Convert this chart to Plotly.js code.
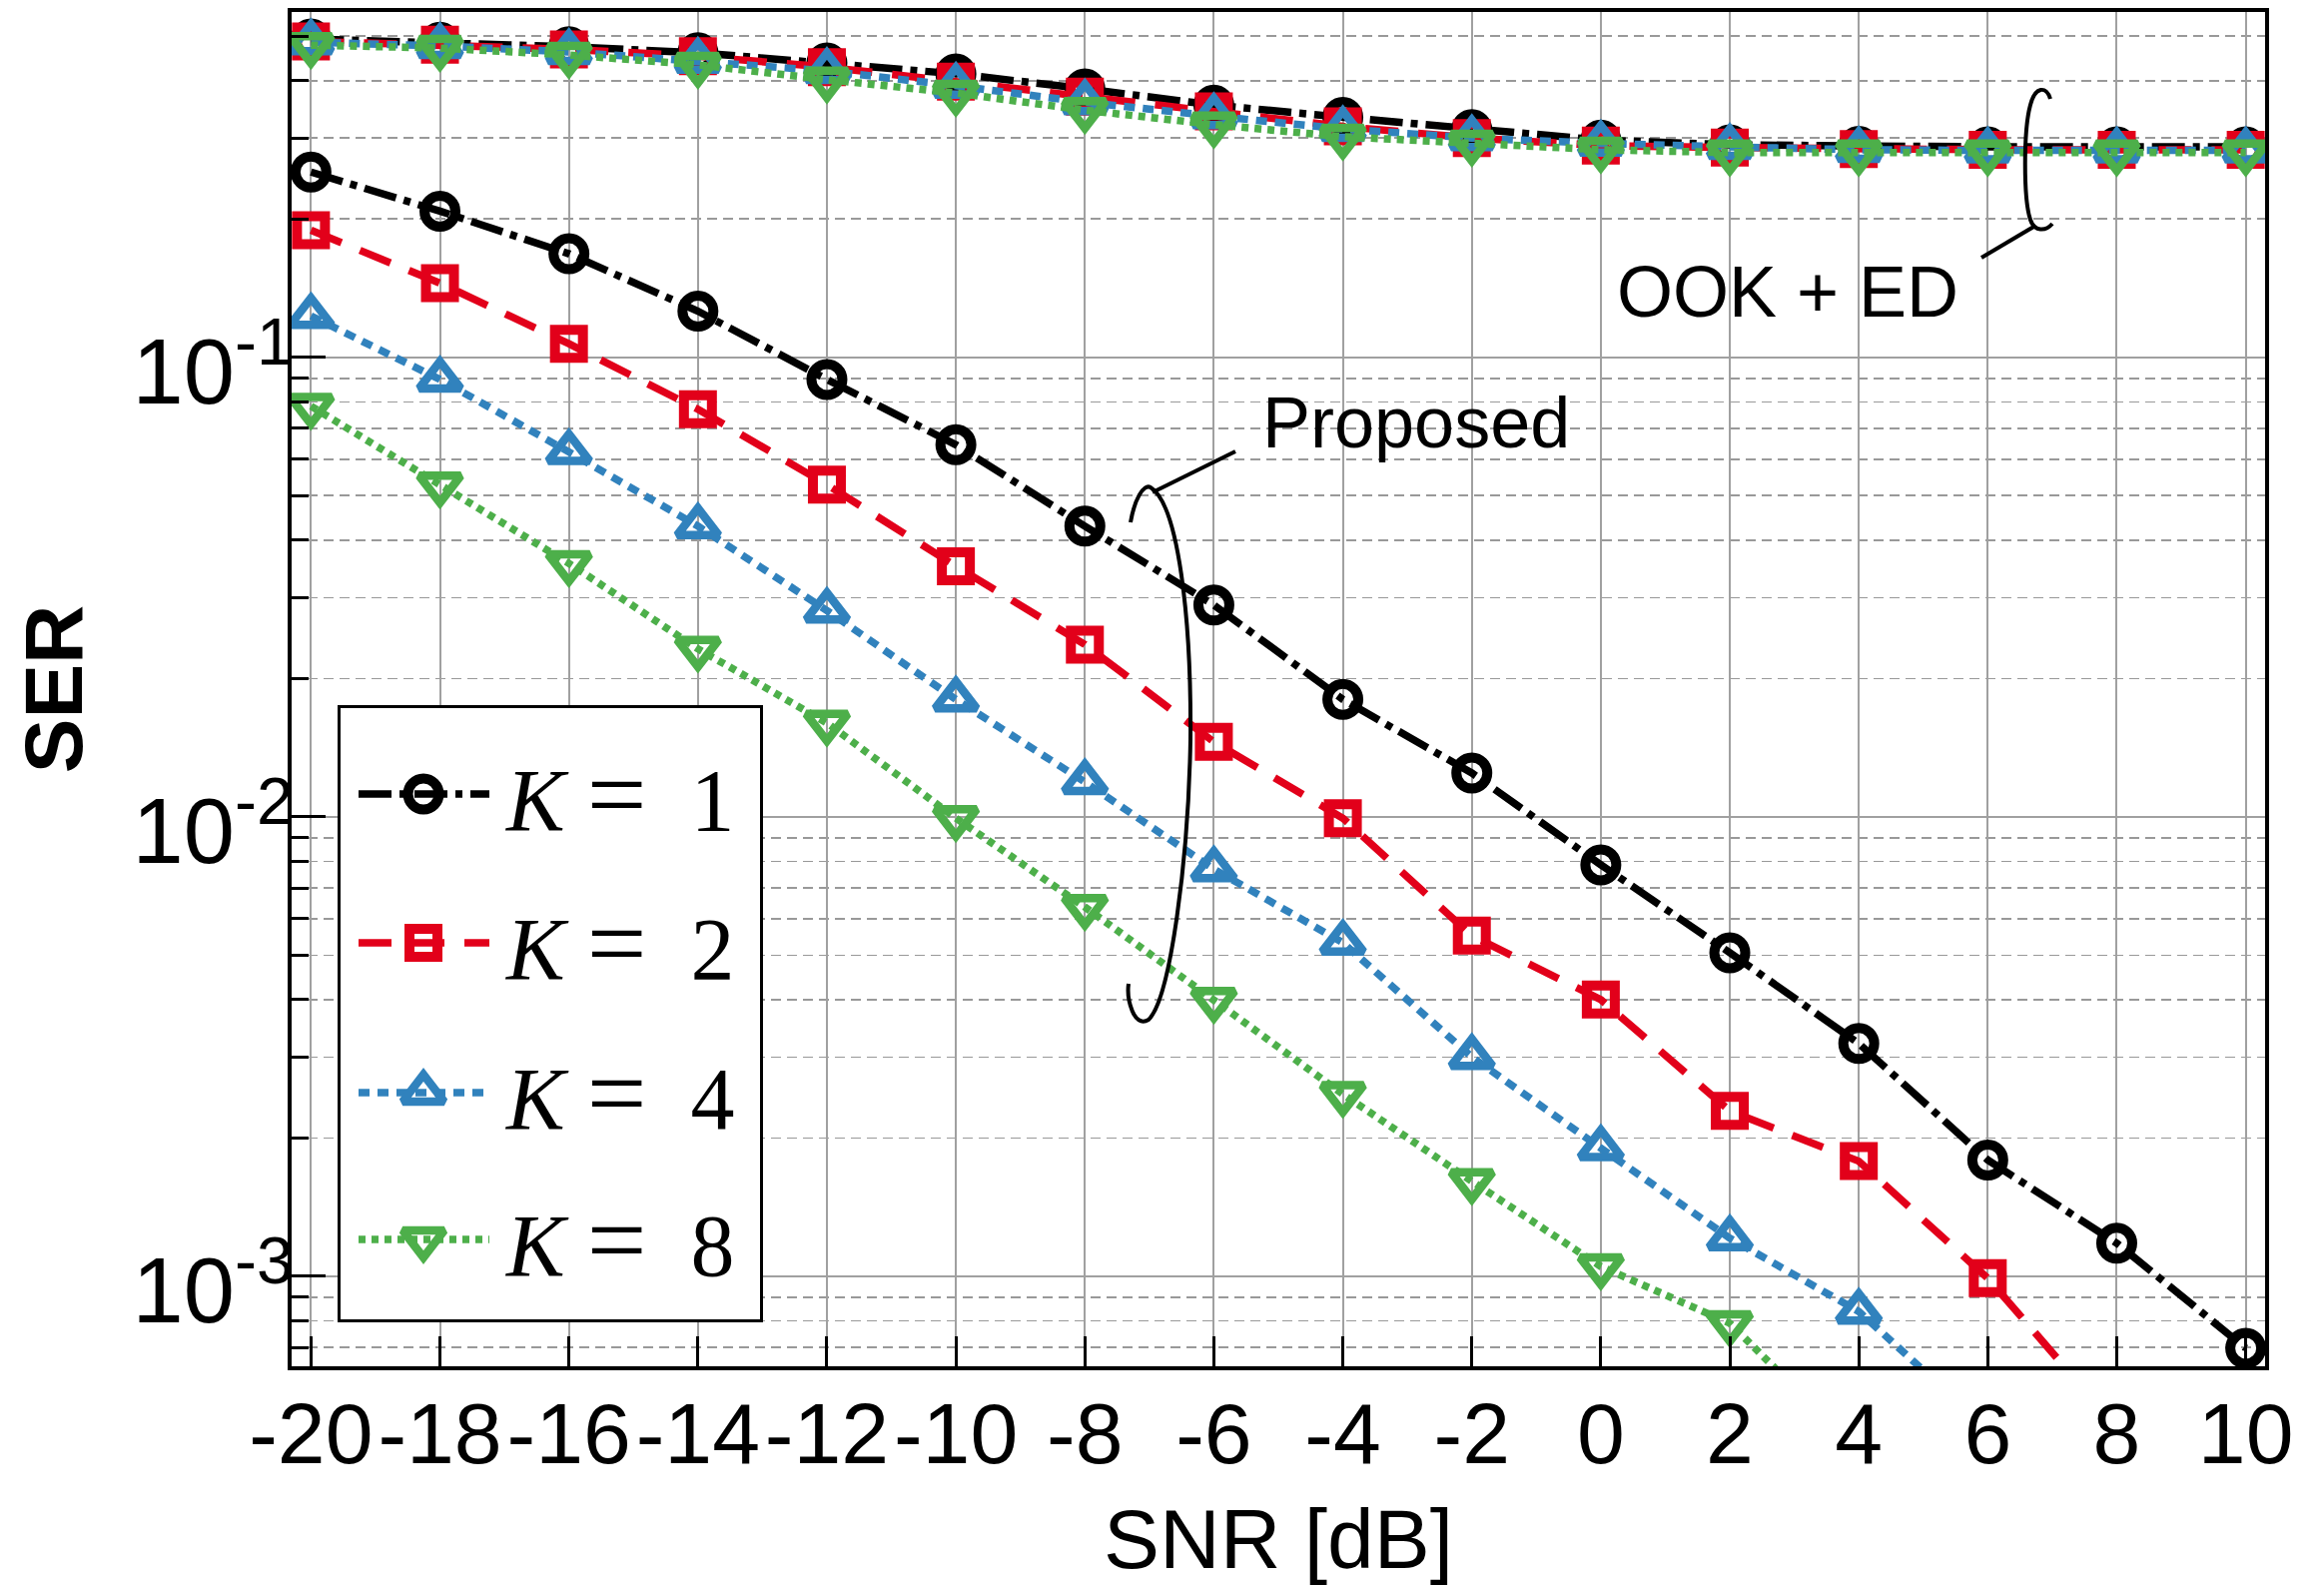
<!DOCTYPE html>
<html><head><meta charset="utf-8">
<script src="https://cdn.plot.ly/plotly-3.0.1.min.js"></script>
<style>html,body{margin:0;padding:0;background:#fff}#chart{width:2327px;height:1590px}</style>
</head><body><div id="chart"></div>
<script>
// ---------------- data ----------------
const snr = [-20,-18,-16,-14,-12,-10,-8,-6,-4,-2,0,2,4,6,8,10];
const kValues = [1, 2, 4, 8];

// Proposed scheme (SER vs SNR)
const proposedK1 = [0.253,0.208,0.168,0.126,0.0895,0.0645,0.0429,0.0289,0.0180,0.01245,0.00786,0.00506,0.00321,0.00179,0.00118,0.000697];
const proposedK2 = [0.189,0.145,0.107,0.0771,0.0528,0.0351,0.0237,0.01455,0.00993,0.00551,0.00400,0.00229,0.00178,0.00099,0.00047];
const proposedK4 = [0.123,0.0895,0.0622,0.0429,0.0281,0.0180,0.0119,0.00769,0.00532,0.00300,0.00190,0.00121,0.000838,0.000465];
const proposedK8 = [0.0783,0.0528,0.0356,0.0232,0.0160,0.00993,0.00636,0.00399,0.00249,0.00161,0.00105,0.00079,0.000416];

// OOK + energy detection
const ookK1 = [0.493,0.485,0.474,0.460,0.437,0.414,0.384,0.354,0.333,0.313,0.297,0.290,0.288,0.287,0.287,0.287];
const ookK2 = [0.487,0.479,0.468,0.452,0.428,0.398,0.369,0.343,0.318,0.300,0.289,0.286,0.284,0.283,0.283,0.283];
const ookK4 = [0.485,0.476,0.462,0.442,0.420,0.390,0.359,0.335,0.314,0.300,0.292,0.287,0.283,0.282,0.282,0.282];
const ookK8 = [0.478,0.471,0.455,0.433,0.402,0.376,0.345,0.321,0.302,0.293,0.283,0.279,0.279,0.279,0.279,0.279];

const xTickLabels = ['-20','-18','-16','-14','-12','-10','-8','-6','-4','-2','0','2','4','6','8','10'];
const yTickValues = [0.001, 0.01, 0.1];
const yTickExponents = ['-3', '-2', '-1'];
const groupLabels = ['Proposed', 'OOK + ED'];
const xTitle = 'SNR [dB]';
const yTitle = 'SER';

// ---------------- styles ----------------
const proposed = [proposedK1, proposedK2, proposedK4, proposedK8];
const ook = [ookK1, ookK2, ookK4, ookK8];
const styles = [
  {color:'#000000', symbol:'circle',        size:31, mlw:10, dash:'33px,8px,7px,8px', lw:7.5},
  {color:'#e2001a', symbol:'square',        size:28, mlw:10, dash:'33px,20px',        lw:7.5},
  {color:'#3182bd', symbol:'triangle-up',   size:36, mlw:8.5, dash:'11px,8px',        lw:7.5},
  {color:'#4daf4a', symbol:'triangle-down', size:36, mlw:8.5, dash:'7px,6px',         lw:7.5}
];
const yTickLabels = yTickExponents.map(e => '10<sup><span style="font-size:66px">' + e + '</span></sup>');

const FONT = 'Liberation Sans, Arial, Helvetica, sans-serif';
const W = 2327, H = 1590;
const L = 292, R = 2268, T = 12, B = 1368;
const px = X => (X - L) / (R - L);
const py = Y => (B - Y) / (B - T);
function pathPaper(cmds) {
  return cmds.map(c => {
    const pts = [];
    for (let i = 1; i < c.length; i += 2) pts.push(px(c[i]).toFixed(5) + ',' + py(c[i + 1]).toFixed(5));
    return c[0] + ' ' + pts.join(' ');
  }).join(' ');
}
function markerStyle(st) {
  return {symbol:st.symbol, size:st.size, color:'rgba(0,0,0,0)', line:{color:st.color, width:st.mlw}};
}

const traces = [];
function addSeries(arr, st, name) {
  traces.push({
    type:'scatter', mode:'lines+markers', name: name,
    x: snr.slice(0, arr.length), y: arr,
    line:{color:st.color, width:st.lw, dash:st.dash},
    marker: markerStyle(st),
    showlegend:false, cliponaxis:true, xaxis:'x', yaxis:'y'
  });
}
ook.forEach((arr, i) => addSeries(arr, styles[i], 'OOK+ED K=' + kValues[i]));
proposed.forEach((arr, i) => addSeries(arr, styles[i], 'Proposed K=' + kValues[i]));

// custom legend drawn in an inset subplot (pixel-like units)
const legX0 = 341, legX1 = 761, legY0 = 709, legY1 = 1321;
const legRows = [795, 944, 1094, 1241];
const annotations = [];
kValues.forEach((k, i) => {
  const st = styles[i];
  traces.push({type:'scatter', mode:'lines', x:[359, 490], y:[legRows[i], legRows[i]],
    line:{color:st.color, width:st.lw, dash:st.dash}, xaxis:'x2', yaxis:'y2', showlegend:false, hoverinfo:'skip'});
  traces.push({type:'scatter', mode:'markers', x:[424], y:[legRows[i]],
    marker: markerStyle(st), xaxis:'x2', yaxis:'y2', showlegend:false, hoverinfo:'skip'});
  annotations.push({xref:'x2', yref:'y2', x:503, y:legRows[i], xanchor:'left', yanchor:'middle',
    text:'<i>K</i>\u2005<span style="font-size:106px">=</span>\u2002' + k, showarrow:false,
    font:{family:'Liberation Serif, Times New Roman, serif', size:88, color:'#000'}});
});

annotations.push({xref:'paper', yref:'paper', x:px(1262), y:py(423), xanchor:'left', yanchor:'middle',
  text:groupLabels[0], showarrow:false, font:{family:FONT, size:72, color:'#000'}});
annotations.push({xref:'paper', yref:'paper', x:px(1617), y:py(292), xanchor:'left', yanchor:'middle',
  text:groupLabels[1], showarrow:false, font:{family:FONT, size:72, color:'#000'}});

const minorVals = [];
for (let e = -4; e <= -1; e++) for (let m = 2; m <= 9; m++) minorVals.push(m * Math.pow(10, e));

const shapes = [
  {type:'path', xref:'paper', yref:'paper', line:{color:'#000', width:4},
   path: pathPaper([['M',1132,523],['C',1136,500,1145,484,1152,488],['C',1180,505,1193,620,1192,740],['C',1190,860,1172,1000,1150,1021],['C',1135,1030,1128,1000,1130,985]])},
  {type:'line', xref:'paper', yref:'paper', x0:px(1154), y0:py(493), x1:px(1237), y1:py(452), line:{color:'#000', width:4}},
  {type:'path', xref:'paper', yref:'paper', line:{color:'#000', width:4},
   path: pathPaper([['M',2053,99],['C',2049,86,2038,86,2033,105],['C',2026,130,2026,200,2033,220],['C',2037,232,2048,232,2055,224]])},
  {type:'line', xref:'paper', yref:'paper', x0:px(2038), y0:py(226), x1:px(1984), y1:py(258), line:{color:'#000', width:4}}
];

const layout = {
  width:W, height:H,
  margin:{l:L, r:W-R, t:T, b:H-B, pad:0},
  paper_bgcolor:'#fff', plot_bgcolor:'#fff',
  showlegend:false,
  font:{family:FONT, color:'#000'},
  xaxis:{
    range:[-20.3, 10.3], tickmode:'array', tickvals:snr, ticktext:xTickLabels,
    ticks:'inside', ticklen:30, tickwidth:3, tickcolor:'#000',
    showgrid:true, gridcolor:'#a0a0a0', gridwidth:2, zeroline:false,
    showline:true, linewidth:4, linecolor:'#000', mirror:true,
    tickfont:{family:FONT, size:86, color:'#000'}, ticklabelstandoff:-10,
    title:{text:xTitle, font:{family:FONT, size:84, color:'#000'}, standoff:30},
    automargin:false
  },
  yaxis:{
    type:'log', range:[-3.196, -0.2485], tickmode:'array', tickvals:yTickValues, ticktext:yTickLabels,
    ticks:'inside', ticklen:34, tickwidth:3, tickcolor:'#000',
    showgrid:true, gridcolor:'#a0a0a0', gridwidth:2, zeroline:false,
    showline:true, linewidth:4, linecolor:'#000', mirror:true,
    tickfont:{family:FONT, size:92, color:'#000'}, ticklabelstandoff:-24, ticklabelshift:14,
    minor:{tickmode:'array', tickvals:minorVals, ticks:'inside', ticklen:17, tickwidth:3, tickcolor:'#000',
      showgrid:true, gridcolor:'#999999', gridwidth:1.5, griddash:'10px,6px'},
    title:{text:'<b>' + yTitle + '</b>', font:{family:FONT, size:82, color:'#000'}, standoff:24},
    automargin:false
  },
  xaxis2:{domain:[px(legX0), px(legX1)], range:[legX0, legX1], anchor:'y2',
    showgrid:false, zeroline:false, showticklabels:false, ticks:'',
    showline:true, linewidth:3, linecolor:'#000', mirror:true, fixedrange:true},
  yaxis2:{domain:[py(legY1), py(legY0)], range:[legY1, legY0], anchor:'x2',
    showgrid:false, zeroline:false, showticklabels:false, ticks:'',
    showline:true, linewidth:3, linecolor:'#000', mirror:true, fixedrange:true},
  annotations: annotations,
  shapes: shapes
};

Plotly.newPlot('chart', traces, layout, {displayModeBar:false, staticPlot:true});
</script>
</body></html>
